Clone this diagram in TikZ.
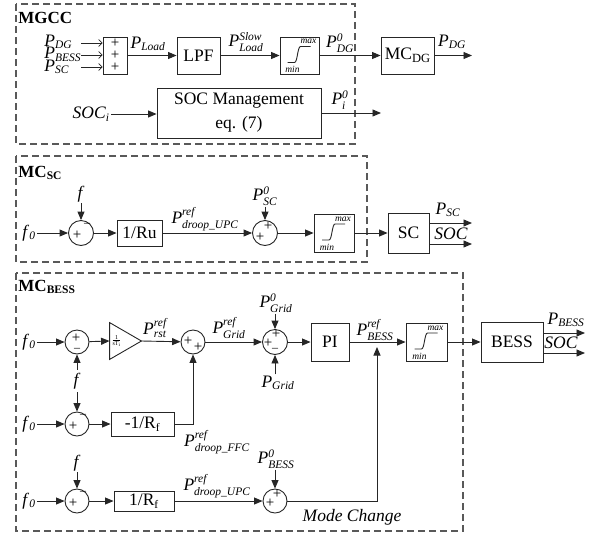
\documentclass[tikz,border=0pt]{standalone}
\usepackage{amsmath}
\usepackage{fontspec}
\setmainfont{Liberation Serif}
\DeclareMathSizes{17.5}{17.5}{11.5}{8}
\usetikzlibrary{arrows.meta}
\newcommand\myPs[1]{\textit{P}$_{\textit{#1}}$}
\newcommand\myPss[2]{\textit{P}$^{\textit{#1}}_{\textit{#2}}$}
\newcommand\satglyph[1]{%
  \draw[line width=0.9pt] ([shift={(-12,7)}]#1.center) -- ([shift={(-5,7)}]#1.center)
     .. controls ([shift={(-2,7)}]#1.center) and ([shift={(-2,-9)}]#1.center) .. ([shift={(1,-9)}]#1.center)
     -- ([shift={(11,-9)}]#1.center);
  \node[satlbl] (#1max) at ([shift={(9,-14)}]#1.center) {max};
  \node[satlbl] (#1min) at ([shift={(-7,14)}]#1.center) {min};}
\begin{document}
\begin{tikzpicture}[x=1pt,y=-1pt,
  font=\fontsize{17.5}{20}\selectfont,
  line width=0.9pt, draw=black!85,
  blk/.style={draw,inner sep=0pt,fill=white},
  sumc/.style={draw,circle,inner sep=0pt,minimum size=#1},
  sumc/.default=24,
  lab/.style={inner sep=1pt},
  arr/.style={-{Triangle[length=8.5pt,width=7pt]}},
  thinarr/.style={-{Straight Barb[length=3.5pt,width=7pt]},line width=0.7pt},
  dframe/.style={draw=black!65,dash pattern=on 7pt off 4pt,line width=1.2pt},
  sg/.style={inner sep=0pt,font=\fontsize{15}{15}\selectfont},
  mn/.style={inner sep=0pt,font=\fontsize{12}{12}\selectfont},
  satlbl/.style={inner sep=0pt,font=\fontsize{9.5}{9.5}\selectfont\itshape},
  ttl/.style={anchor=west,inner sep=0pt,font=\fontsize{17}{19}\selectfont\bfseries},
]
\useasboundingbox (0,0) rectangle (593,533);

% frames
\draw[dframe] (16,4) rectangle (355,144);
\draw[dframe] (16,156) rectangle (367,262);
\draw[dframe] (16,273) rectangle (463,531);

% ===== MGCC =====
\node[ttl] (tA) at (18,18) {MGCC};
\node[blk,minimum width=24,minimum height=37] (sumL) at (115,55.5) {};
\node[sg] (spa) at (115,43.5) {+};
\node[sg] (spb) at (115,55.5) {+};
\node[sg] (spc) at (115,67.5) {+};
\coordinate (ia) at (81,43);
\coordinate (ib) at (81,55);
\coordinate (ic) at (81,67);
\draw[thinarr] (ia) -- (ia -| sumL.west);
\draw[thinarr] (ib) -- (ib -| sumL.west);
\draw[thinarr] (ic) -- (ic -| sumL.west);
\node[lab,anchor=base west,inner sep=0pt] (lPdg) at (44,46) {\myPs{DG}};
\node[lab,anchor=base west,inner sep=0pt] (lPbess) at (44,58.5) {\myPs{BESS}};
\node[lab,anchor=base west,inner sep=0pt] (lPsc) at (44,71) {\myPs{SC}};

\node[blk,minimum width=43,minimum height=37] (lpf) at (198.5,55.5) {LPF};
\draw[arr] (sumL.east) -- (lpf.west);
\node[lab] (lPload) at (148,44) {\myPs{Load}};
\node[blk,minimum width=39,minimum height=37] (sat1) at (299.5,55.5) {};
\satglyph{sat1}
\draw[arr] (lpf) -- (sat1);
\node[lab] (lPslow) at (246,42) {\myPss{Slow}{Load}};
\node[blk,minimum width=53,minimum height=37] (mcdg) at (407.5,55.5) {MC\raisebox{-3pt}{\fontsize{12.5}{12.5}\selectfont DG}};
\draw[arr] (sat1) -- (mcdg);
\node[lab] (lP0dg) at (340,43) {\myPss{0}{DG}};
\coordinate (oDG) at (472,55.5);
\draw[arr] (mcdg) -- (oDG);
\node[lab] (lPdgo) at (452,42) {\myPs{DG}};

\node[blk,minimum width=164,minimum height=50,align=center] (socm) at (239,113) {SOC Management\\[4pt]eq. (7)};
\node[lab,anchor=east] (lsoci) at (111,114) {\textit{SOC}$_{\textit{i}}$};
\draw[arr] (lsoci.east) -- (socm.west |- lsoci.east);
\coordinate (oPi) at (381,113);
\draw[arr] (socm.east) -- (oPi);
\node[lab] (lPi) at (340,100) {\myPss{0}{i}};

% ===== MC_SC =====
\node[ttl] (tB) at (18,173) {MC\raisebox{-2pt}{\fontsize{11.5}{11.5}\selectfont\bfseries SC}};
\node[lab,anchor=east] (f0a) at (37,233) {\textit{f}$_{\textit{0}}$};
\node[sumc=25] (c1) at (81,233) {};
\draw[arr] (f0a.east) -- (c1.west);
\node[lab] (fa) at (81,194) {\textit{f}};
\draw[arr] (fa.south) -- (c1.north);
\node[sg] (c1p) at (77,235) {+};
\node[mn] (c1m) at (87,225) {–};
\node[blk,minimum width=45,minimum height=26] (ru) at (139.5,233) {1/Ru};
\draw[arr] (c1) -- (ru);
\node[sumc=25] (c2) at (265,233) {};
\draw[arr] (ru) -- (c2);
\node[lab] (lPdupc1) at (205,219) {\myPss{ref}{droop\_UPC}};
\node[lab] (lP0sc) at (265,196) {\myPss{0}{SC}};
\draw[arr] (lP0sc.south -| c2) -- (c2.north);
\node[sg] (c2pa) at (268,226) {+};
\node[sg] (c2pb) at (260,237) {+};
\node[blk,minimum width=40,minimum height=38] (sat2) at (334,233) {};
\satglyph{sat2}
\draw[arr] (c2) -- (sat2);
\node[blk,minimum width=41,minimum height=40] (scb) at (408.5,233) {SC};
\draw[arr] (sat2) -- (scb);
\coordinate (oPsc) at (472,223);
\coordinate (oSoc1) at (472,244);
\draw[arr] (scb.east |- oPsc) -- (oPsc);
\draw[arr] (scb.east |- oSoc1) -- (oSoc1);
\node[lab] (lPsc2) at (448,210) {\myPs{SC}};
\node[lab] (lsoc1) at (451,234) {\textit{SOC}};

% ===== MC_BESS =====
\node[ttl] (tC) at (18,287) {MC\raisebox{-2pt}{\fontsize{11.5}{11.5}\selectfont\bfseries BESS}};
\node[lab,anchor=east] (f0b) at (37,342) {\textit{f}$_{\textit{0}}$};
\node[sumc=24] (b1) at (77,342) {};
\draw[arr] (f0b.east) -- (b1.west);
\node[sg] (b1p) at (76,338) {+};
\node[mn] (b1m) at (77,350) {–};
\node[inner sep=0pt,minimum width=31,minimum height=36] (gain) at (125.5,341) {};
\draw (gain.north west) -- (gain.east) -- (gain.south west) -- cycle;
\node[inner sep=0pt,font=\fontsize{8}{8}\selectfont] (gtxt) at (116.5,341) {$\frac{\text{1}}{\text{sT}_{\text{i}}}$};
\draw[arr] (b1) -- (gain.west);
\node[sumc=24] (b2) at (193,342) {};
\draw[arr] (gain.east) -- (b2);
\node[lab] (lPrst) at (155,328) {\myPss{ref}{rst}};
\node[sg] (b2pa) at (188,341) {+};
\node[sg] (b2pb) at (198,347) {+};
\node[sumc=25] (b3) at (275,342) {};
\draw[arr] (b2) -- (b3);
\node[lab] (lPgrid) at (229,328) {\myPss{ref}{Grid}};
\node[lab] (lP0grid) at (276,303) {\myPss{0}{Grid}};
\draw[arr] (lP0grid.south -| b3) -- (b3.north);
\node[lab] (lPgrid2) at (278,383) {\myPs{Grid}};
\draw[arr] (lPgrid2.north -| b3) -- (b3.south);
\node[sg] (b3pa) at (276,334) {+};
\node[sg] (b3pb) at (268,343) {+};
\node[mn] (b3m) at (275,350) {–};
\node[blk,minimum width=38,minimum height=38] (pi) at (330,342) {PI};
\draw[arr] (b3) -- (pi);
\node[blk,minimum width=41,minimum height=38] (sat3) at (426.5,342) {};
\satglyph{sat3}
\draw[arr] (pi) -- (sat3);
\node[lab] (lPbref) at (375,330) {\myPss{ref}{BESS}};
\node[blk,minimum width=62,minimum height=40] (bess) at (512,342) {BESS};
\draw[arr] (sat3) -- (bess);
\coordinate (oPb) at (585,333);
\coordinate (oSoc2) at (585,353);
\draw[arr] (bess.east |- oPb) -- (oPb);
\draw[arr] (bess.east |- oSoc2) -- (oSoc2);
\node[lab] (lPb2) at (566,320) {\myPs{BESS}};
\node[lab] (lsoc2) at (561,343) {\textit{SOC}};

% f between rows 1 and 2
\node[lab,inner sep=3pt] (fb) at (77,381) {\textit{f}};
\node[sumc=24] (b4) at (77,424) {};
\draw[arr] (fb.north) -- (b1.south);
\draw[arr] (fb.south) -- (b4.north);
\node[lab,anchor=east] (f0c) at (37,424) {\textit{f}$_{\textit{0}}$};
\draw[arr] (f0c.east) -- (b4.west);
\node[sg] (b4p) at (73,426) {+};
\node[mn] (b4m) at (83,416) {–};
\node[blk,minimum width=63,minimum height=24] (rf1) at (142.5,424) {-1/R\textsubscript{f}};
\draw[arr] (b4) -- (rf1);
\draw[arr] (rf1.east) -| (b2.south);
\node[lab] (lPffc) at (217,442) {\myPss{ref}{droop\_FFC}};

% row 3
\node[lab] (fc) at (77,463) {\textit{f}};
\node[sumc=24] (b5) at (77,501) {};
\draw[arr] (fc.south) -- (b5.north);
\node[lab,anchor=east] (f0d) at (37,501) {\textit{f}$_{\textit{0}}$};
\draw[arr] (f0d.east) -- (b5.west);
\node[sg] (b5p) at (73,503) {+};
\node[mn] (b5m) at (83,493) {–};
\node[blk,minimum width=60,minimum height=20] (rf2) at (144,501) {1/R\textsubscript{f}};
\draw[arr] (b5) -- (rf2);
\node[sumc=24] (b6) at (275,501) {};
\draw[arr] (rf2) -- (b6);
\node[lab] (lPupc2) at (217,486) {\myPss{ref}{droop\_UPC}};
\node[lab] (lP0b) at (276,459) {\myPss{0}{BESS}};
\draw[arr] (lP0b.south -| b6) -- (b6.north);
\node[sg] (b6pa) at (277,494) {+};
\node[sg] (b6pb) at (270,503) {+};
\coordinate (mc) at (377,347);
\draw[arr] (b6.east) -| (mc);
\node[lab] (lmode) at (352,517) {\textit{Mode Change}};
\end{tikzpicture}
\end{document}
